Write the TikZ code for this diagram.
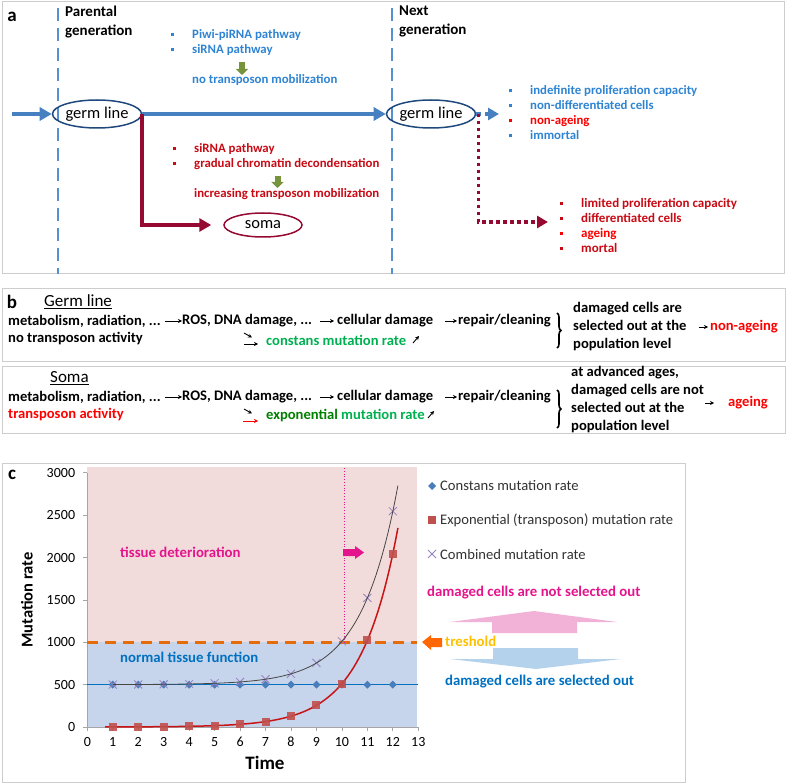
\documentclass[tikz,border=0pt]{standalone}
\usepackage{fontspec}
\setmainfont{Carlito}
\usetikzlibrary{arrows.meta,positioning,shapes.geometric,decorations.pathreplacing}
\definecolor{boxgray}{RGB}{205,205,205}
\definecolor{genblue}{RGB}{85,145,210}
\definecolor{flowblue}{RGB}{70,128,192}
\definecolor{ellblue}{RGB}{31,73,125}
\definecolor{crimson}{RGB}{150,10,50}
\definecolor{olive}{RGB}{119,147,60}
\definecolor{txtblue}{RGB}{46,132,210}
\definecolor{txtred}{RGB}{200,10,20}
\definecolor{brightred}{RGB}{255,0,0}
\definecolor{lightgreen}{RGB}{0,176,80}
\definecolor{darkgreen}{RGB}{0,128,0}
\definecolor{pinkbg}{RGB}{242,220,219}
\definecolor{bluebg}{RGB}{198,213,235}
\definecolor{threshorange}{RGB}{228,108,10}
\definecolor{constblue}{RGB}{0,112,192}
\definecolor{diablue}{RGB}{74,126,187}
\definecolor{expred}{RGB}{200,20,20}
\definecolor{sqred}{RGB}{192,80,77}
\definecolor{combx}{RGB}{150,130,190}
\definecolor{combline}{RGB}{70,70,70}
\definecolor{magtext}{RGB}{228,20,140}
\definecolor{pinkarr}{RGB}{242,178,215}
\definecolor{bluearr}{RGB}{180,210,236}
\definecolor{orangearr}{RGB}{255,102,0}
\definecolor{treshyellow}{RGB}{255,192,0}
\definecolor{legtext}{RGB}{50,50,50}
\newcommand{\bitem}[2]{\makebox[21pt][l]{\textcolor{#1}{\rule[0.35ex]{3.2pt}{3.2pt}}}\textcolor{#1}{#2}}
\newcommand{\fsz}[2]{\fontsize{#1}{#2}\selectfont}

\begin{document}
\begin{tikzpicture}[x=1pt, y=-1pt, every node/.style={inner sep=0pt, font=\bfseries\fsz{12.8}{15}}]
\tikzstyle{panel}=[draw=boxgray, line width=1pt]
\tikzstyle{gen}=[draw=genblue, line width=1.6pt, dash pattern=on 13pt off 7pt]
\tikzstyle{cell}=[ellipse, draw=ellblue, line width=1.5pt, minimum width=78pt, minimum height=28pt, font=\fsz{16.5}{18}]
\tikzstyle{flow}=[draw=flowblue, line width=4pt, -{Triangle[length=12pt,width=13pt]}]
\tikzstyle{somaflow}=[draw=crimson, line width=4pt, -{Triangle[length=12pt,width=13pt]}]
\tikzstyle{dotflow}=[draw=flowblue, line width=4pt, dash pattern=on 5pt off 4pt, -{Triangle[length=11pt,width=12pt]}]
\tikzstyle{dotsoma}=[draw=crimson, line width=3.5pt, dash pattern=on 3.5pt off 3.5pt, -{Triangle[length=11pt,width=12pt]}]
\tikzstyle{greenarr}=[draw=olive, line width=6pt, -{Triangle[length=6pt,width=12pt]}]
\tikzstyle{plab}=[font=\bfseries\fsz{19}{19}]
\tikzstyle{btxt}=[anchor=west, font=\bfseries\fsz{14.6}{18}]
\tikzstyle{rtxt}=[anchor=west, align=left, font=\bfseries\fsz{14.6}{18}]
\tikzstyle{sarr}=[black, line width=0.9pt, -{Stealth[length=4pt,width=4pt]}]
\tikzstyle{curly}=[decorate, decoration={brace, amplitude=4pt}, line width=1.6pt]
\tikzstyle{ticklab}=[font=\fsz{14}{14}]
\tikzstyle{legtxt}=[anchor=west, text=legtext, font=\fsz{14.6}{16}]
\tikzstyle{ctxt}=[anchor=west, font=\bfseries\fsz{14.8}{16}]
\useasboundingbox (0,0) rectangle (787,783);

% panel a
\draw[panel] (2,2) rectangle (784,274);
\node[plab] (la) at (12,17) {a};
\draw[gen] (58,8) -- (58,274);
\draw[gen] (392,8) -- (392,274);
\node[anchor=north west, align=left, font=\bfseries\fsz{15}{19}] (pg) at (65,6) {Parental\\generation};
\node[anchor=north west, align=left, font=\bfseries\fsz{15}{19}] (ng) at (399,6) {Next\\generation};

\node[anchor=west, align=left] (pw) at (171,42.5) {\bitem{txtblue}{Piwi-piRNA pathway}\\\bitem{txtblue}{siRNA pathway}};
\node[anchor=west, text=txtblue] (nomob) at (192,80) {no transposon mobilization};
\coordinate (ga1) at (242,62);
\coordinate (ga2) at (242,75);
\draw[greenarr] (ga1) -- (ga2);

\coordinate (start) at (12,114);
\node[cell] (gl1) at (97,114) {germ line\hspace{10pt}};
\node[cell] (gl2) at (431,114) {germ line\hspace{10pt}};
\node[cell, draw=crimson, minimum height=24pt] (soma) at (263,225) {soma};
\draw[flow] (start) -- (gl1);
\draw[flow] (gl1) -- (gl2);
\draw[somaflow, shorten >=12pt] (gl1.east) |- (soma.west);

\node[anchor=west, align=left] (sir) at (173,156.5) {\bitem{txtred}{siRNA pathway}\\\bitem{txtred}{gradual chromatin decondensation}};
\node[anchor=west, text=txtred] (incmob) at (194,194) {increasing transposon mobilization};
\coordinate (ga3) at (277.5,176);
\coordinate (ga4) at (277.5,188);
\draw[greenarr] (ga3) -- (ga4);

\coordinate (dotend) at (499,114);
\coordinate (redend) at (548,222);
\draw[dotflow] (gl2.east) -- (dotend);
\draw[dotsoma] ([xshift=2pt]gl2.east) |- (redend);
\node[anchor=west, align=left] (glprop) at (509,112.5) {\bitem{txtblue}{indefinite proliferation capacity}\\\bitem{txtblue}{non-differentiated cells}\\\bitem{brightred}{non-ageing}\\\bitem{txtblue}{immortal}};
\node[anchor=west, align=left, font=\bfseries\fsz{13}{15}] (soprop) at (560,225.5) {\bitem{txtred}{limited proliferation capacity}\\\bitem{txtred}{differentiated cells}\\\bitem{brightred}{ageing}\\\bitem{txtred}{mortal}};

% panel b, germ line
\draw[panel] (2,289) rectangle (785,362);
\node[plab] (lb) at (12,302) {b};
\node[anchor=west, font=\fsz{17}{18}] (gh) at (44,302) {\underline{Germ line}};
\node[btxt] (g1) at (8,321) {metabolism, radiation, ...};
\node[btxt] (g2) at (182,321) {ROS, DNA damage, ...};
\node[btxt] (g3) at (337,321) {cellular damage};
\node[btxt] (g4) at (458,321) {repair/cleaning};
\node[btxt] (g5) at (8,339) {no transposon activity};
\node[btxt, text=lightgreen] (g6) at (266,340) {constans mutation rate};
\draw[sarr, shorten <=4pt] (g1) -- (g2);
\draw[sarr, shorten <=8pt, shorten >=3pt] (g2) -- (g3);
\draw[sarr, shorten <=12pt, shorten >=1pt] (g3) -- (g4);
\coordinate (gd1) at (244,333);
\coordinate (gd2) at (252,337.5);
\coordinate (gh1) at (244,344);
\coordinate (gh2) at (258,344);
\coordinate (gu1) at (413,343);
\coordinate (gu2) at (419,336);
\draw[sarr] (gd1) -- (gd2);
\draw[sarr] (gh1) -- (gh2);
\draw[sarr] (gu1) -- (gu2);
\draw[curly] (557,313) -- (557,348);
\node[rtxt] (gt) at (573,327) {damaged cells are\\selected out at the\\population level};
\node[rtxt, text=brightred] (gna) at (710,327) {non-ageing};
\draw[sarr, shorten <=12pt, shorten >=2pt] (gt) -- (gna);

% panel b, soma
\draw[panel] (2,367) rectangle (785,433);
\node[anchor=west, font=\fsz{17}{18}] (sh) at (50,378) {\underline{Soma}};
\node[btxt] (s1) at (8,397) {metabolism, radiation, ...};
\node[btxt] (s2) at (182,397) {ROS, DNA damage, ...};
\node[btxt] (s3) at (337,397) {cellular damage};
\node[btxt] (s4) at (458,397) {repair/cleaning};
\node[btxt, text=brightred] (s5) at (8,415) {transposon activity};
\node[btxt] (s6) at (266,416) {\textcolor{darkgreen}{exponential} \textcolor{lightgreen}{mutation rate}};
\draw[sarr, shorten <=4pt] (s1) -- (s2);
\draw[sarr, shorten <=8pt, shorten >=3pt] (s2) -- (s3);
\draw[sarr, shorten <=12pt, shorten >=1pt] (s3) -- (s4);
\coordinate (sd1) at (244,409);
\coordinate (sd2) at (252,413.5);
\coordinate (sh1) at (243,421);
\coordinate (sh2) at (258,421);
\coordinate (su1) at (428,418);
\coordinate (su2) at (434,411);
\draw[sarr] (sd1) -- (sd2);
\draw[sarr, brightred] (sh1) -- (sh2);
\draw[sarr] (su1) -- (su2);
\draw[curly] (557,390) -- (557,428);
\node[rtxt] (st) at (571,400) {at advanced ages,\\damaged cells are not\\selected out at the\\population level};
\node[rtxt, text=brightred] (sa) at (728,403) {ageing};
\coordinate (sarr1) at (705,403);
\draw[sarr, shorten >=14pt] (sarr1) -- (sa);

% panel c
\draw[panel] (2,463) rectangle (685,782);
\node[plab] (lc) at (12,475) {c};
\begin{scope}[shift={(87.3,727)}, x=25.46pt, y=0.0847pt]
\fill[pinkbg] (0,1000) rectangle (12.95,3070);
\fill[bluebg] (0,0) rectangle (12.95,1000);
\draw[gray!70, line width=0.8pt] (0,0) -- (0,3000);
\draw[gray!70, line width=0.8pt] (0,0) -- (13,0);
\foreach \v in {0,500,...,3000} {
  \draw[gray!70, line width=0.8pt] (0,\v) -- ++(-4pt,0);
  \node[ticklab, anchor=east] (yl\v) at ([xshift=-12pt]0,\v) {\v};
}
\foreach \t in {0,...,13} {
  \draw[gray!70, line width=0.8pt] (\t,0) -- ++(0,-4pt);
  \node[ticklab, anchor=north] (xl\t) at ([yshift=-10pt]\t,0) {\t};
}
\draw[threshorange, line width=3pt, dash pattern=on 11pt off 7pt] (0,1000) -- (12.95,1000);
\draw[magtext, line width=0.8pt, dotted] (10.08,1000) -- (10.08,3070);
\draw[constblue, line width=1.3pt] (0,500) -- (13,500);
\foreach \t in {1,...,12}
  \fill[diablue] (\t,500) +(0,-4pt) -- +(4pt,0) -- +(0,4pt) -- +(-4pt,0) -- cycle;
\foreach \t in {1,...,12}
  \draw[combx, line width=0.8pt] (\t,{500+2^(\t-1)}) +(-4pt,-4pt) -- +(4pt,4pt) +(-4pt,4pt) -- +(4pt,-4pt);
\draw[expred, line width=1.5pt] plot[domain=0.7:12.2, samples=90, smooth] (\x,{2^(\x-1)});
\foreach \t in {1,...,12}
  \fill[sqred, opacity=0.9] (\t,{2^(\t-1)}) +(-4pt,-4pt) rectangle +(4pt,4pt);
\draw[combline, line width=0.8pt] plot[domain=1:12.2, samples=90, smooth] (\x,{500+2^(\x-1)});
\end{scope}
\node[font=\bfseries\fsz{16.5}{16}, rotate=90] (ylab) at (27,600) {Mutation rate};
\node[font=\bfseries\fsz{19}{19}] (xlab) at (265,763) {Time};
\node[ctxt, text=magtext] (det) at (120,552) {tissue deterioration};
\node[ctxt, text=constblue] (norm) at (120,657) {normal tissue function};
\fill[magtext] (343,549) -- (355,549) -- (355,546) -- (364,552.5) -- (355,559) -- (355,556) -- (343,556) -- cycle;

% legend
\fill[diablue] (432,482) -- (436,486) -- (432,490) -- (428,486) -- cycle;
\node[legtxt] (lg1) at (440,486) {Constans mutation rate};
\fill[sqred] (428,516) rectangle (436,524);
\node[legtxt] (lg2) at (440,520) {Exponential (transposon) mutation rate};
\draw[combx, line width=0.8pt] (428,550) -- (436,558) (428,558) -- (436,550);
\node[legtxt] (lg3) at (440,554) {Combined mutation rate};

\node[ctxt, text=magtext] (notsel) at (427,593) {damaged cells are not selected out};
\fill[pinkarr] (492,633) -- (492,622) -- (450,622) -- (534,611) -- (617,622) -- (577,622) -- (577,633) -- cycle;
\fill[orangearr] (422,642) -- (431,635) -- (431,638) -- (442,638) -- (442,647) -- (431,647) -- (431,650) -- cycle;
\node[ctxt, text=treshyellow] (tresh) at (445,641) {treshold};
\fill[bluearr] (493,648) -- (578,648) -- (578,659) -- (621,659) -- (536,669) -- (450,659) -- (493,659) -- cycle;
\node[ctxt, text=constblue] (sel) at (445,682) {damaged cells are selected out};
\end{tikzpicture}
\end{document}
